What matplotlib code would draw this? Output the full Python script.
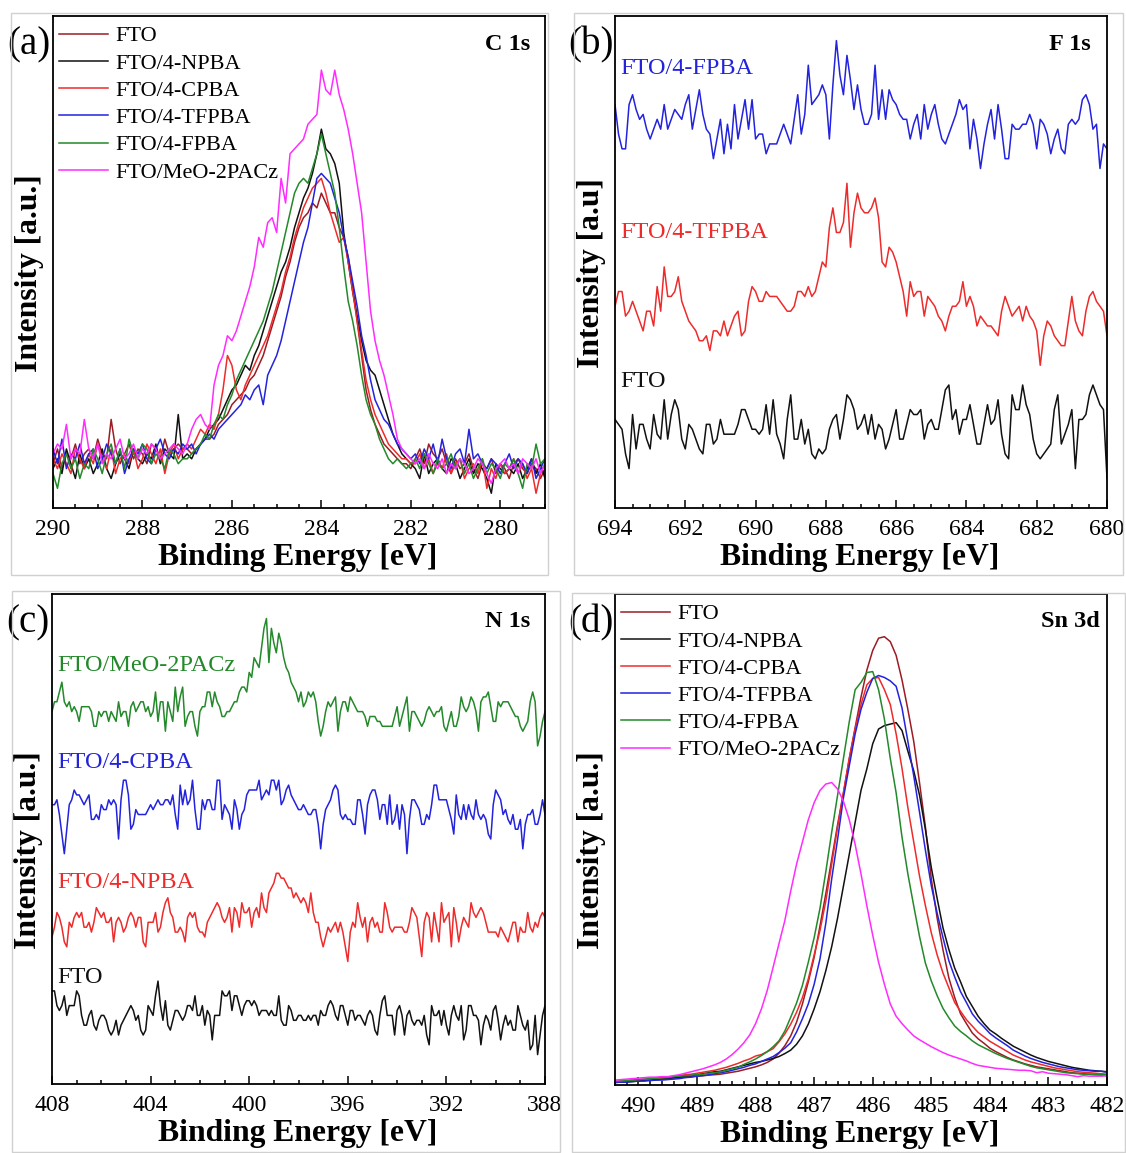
import numpy as np
import matplotlib.pyplot as plt
from matplotlib.patches import Rectangle
from matplotlib.ticker import MultipleLocator

plt.rcParams["font.family"] = ["Liberation Serif", "DejaVu Serif"]

W, H = 1126, 1153

# ---------------- (a) C 1s, 290 -> 279 eV, 0.1 eV steps ----------------
c1s_energy = np.round(np.linspace(290.0, 279.0, 111), 1)
c1s_fto = [9, 12, 8, 11, 10, 13, 9, 11, 12, 10, 14, 11, 10, 18, 12, 9, 11, 13, 10, 12,
           11, 9, 13, 12, 10, 14, 11, 12, 13, 12,
           12, 11, 12, 13, 14, 14, 15, 17, 18, 19, 21, 22, 23, 24, 26, 27, 29, 31, 34, 37,
           40, 43, 47, 50, 54, 57, 59, 60, 62, 61, 64, 62, 60, 60, 57, 55, 51, 45, 38, 31,
           24, 20, 17, 15, 13, 12, 11, 10, 9, 9, 8,
           10, 12, 9, 13, 11, 10, 12, 9, 7, 10, 8, 9, 11, 8, 6, 9, 8, 10, 7, 9,
           8, 6, 9, 10, 8, 7, 9, 8, 6, 8]
c1s_npba = [8, 10, 7, 12, 9, 6, 11, 8, 10, 7, 9, 12, 8, 6, 9, 11, 10, 8, 12, 10,
            9, 11, 10, 13, 9, 12, 11, 10, 19, 10,
            11, 10, 12, 13, 14, 16, 17, 18, 20, 22, 24, 25, 27, 29, 28, 31, 33, 36, 39, 42,
            45, 48, 50, 53, 57, 60, 63, 65, 68, 72, 77, 73, 72, 70, 66, 56, 50, 44, 39, 34,
            30, 28, 27, 24, 21, 18, 15, 13, 11, 10, 9,
            8, 6, 11, 7, 9, 10, 8, 7, 10, 9, 6, 8, 10, 7, 9, 8, 6, 3, 9, 8,
            7, 8, 7, 9, 6, 8, 10, 7, 9, 6]
c1s_cpba = [10, 8, 11, 9, 7, 12, 10, 8, 11, 9, 13, 10, 8, 12, 7, 10, 11, 9, 12, 8,
            10, 13, 11, 9, 12, 7, 11, 13, 10, 12,
            13, 12, 14, 16, 15, 17, 16, 19, 24, 31, 29, 24, 22, 25, 27, 29, 31, 33, 35, 38,
            41, 44, 48, 51, 55, 58, 61, 63, 65, 66, 67, 64, 60, 57, 54, 55, 50, 44, 38, 32,
            26, 22, 19, 17, 15, 13, 12, 11, 10, 10, 9,
            9, 11, 8, 10, 7, 9, 8, 11, 7, 9, 10, 6, 8, 9, 7, 10, 4, 8, 6, 9,
            7, 8, 10, 7, 9, 6, 8, 3, 7, 9]
c1s_tfpba = [12, 9, 14, 8, 11, 10, 13, 9, 11, 12, 8, 10, 13, 11, 9, 12, 7, 10, 12, 11,
             13, 10, 9, 12, 14, 11, 10, 12, 11, 13,
             12, 13, 11, 13, 14, 15, 14, 16, 17, 18, 19, 20, 21, 23, 22, 24, 25, 21, 27, 29,
             31, 34, 38, 42, 46, 50, 54, 57, 62, 67, 68, 67, 66, 63, 60, 55, 51, 46, 41, 35,
             31, 26, 22, 20, 18, 17, 15, 13, 12, 11, 10,
             11, 9, 12, 10, 13, 9, 14, 10, 8, 11, 12, 9, 16, 10, 11, 9, 8, 10, 9, 7,
             9, 11, 8, 10, 9, 7, 10, 6, 8, 10]
c1s_fpba = [7, 4, 9, 11, 8, 10, 6, 9, 8, 12, 10, 7, 11, 13, 9, 12, 8, 14, 11, 10,
            13, 12, 9, 11, 10, 8, 12, 11, 9, 10,
            10, 11, 12, 13, 15, 14, 17, 19, 18, 21, 23, 26, 28, 30, 32, 34, 36, 38, 41, 44,
            48, 52, 56, 60, 64, 66, 67, 66, 69, 72, 76, 72, 68, 64, 57, 49, 42, 38, 33, 27,
            22, 19, 17, 14, 12, 10, 9, 10, 9, 8, 9,
            10, 8, 11, 9, 7, 10, 8, 9, 11, 8, 10, 7, 9, 6, 8, 10, 7, 9, 8, 6,
            9, 8, 10, 7, 4, 9, 8, 13, 9, 10]
c1s_meo = [11, 13, 12, 17, 10, 12, 11, 18, 12, 10, 13, 9, 11, 10, 12, 14, 10, 11, 13, 10,
           12, 11, 13, 12, 10, 11, 12, 13, 12, 11,
           13, 16, 18, 19, 17, 16, 25, 29, 31, 35, 34, 36, 39, 42, 45, 49, 55, 53, 58, 59,
           56, 67, 62, 72, 73, 74, 75, 78, 79, 80, 89, 85, 84, 89, 84, 81, 77, 72, 66, 60,
           50, 40, 34, 30, 27, 23, 19, 14, 12, 11, 10,
           9, 10, 8, 11, 9, 8, 10, 7, 9, 8, 10, 9, 7, 8, 10, 9, 7, 5, 8, 9,
           10, 8, 9, 7, 10, 9, 8, 10, 7, 9]

# ---------------- (b) F 1s, 694 -> 680 eV ----------------
f1s_energy = np.round(np.linspace(694.0, 680.0, 141), 1)
f1s_fpba = [82, 76, 73, 73, 82, 84, 81, 79, 80, 77, 75, 77, 79, 77, 82, 77, 79, 81, 80, 79,
            82, 84, 77, 81, 85, 80, 77, 76, 71, 75, 79, 72, 78, 73, 82, 75, 79, 83, 77, 83,
            75, 76, 76, 72, 74, 74, 74, 76, 78, 76, 74, 79, 84, 76, 80, 90, 82, 83, 84, 86,
            84, 75, 86, 95, 88, 84, 92, 87, 81, 86, 81, 78, 78, 80, 90, 79, 85, 79, 85, 83,
            82, 80, 79, 79, 75, 78, 80, 75, 82, 77, 80, 82, 78, 75, 74, 76, 78, 80, 83, 81,
            82, 73, 79, 75, 69, 74, 78, 81, 75, 82, 77, 71, 71, 78, 77, 77, 78, 78, 80, 78,
            73, 79, 78, 76, 72, 75, 77, 73, 72, 78, 79, 78, 79, 83, 84, 82, 77, 78, 69, 74,
            73]
f1s_tfpba = [41, 44, 44, 39, 40, 42, 40, 38, 36, 40, 40, 37, 45, 40, 49, 43, 43, 44, 47, 42,
             40, 38, 37, 36, 34, 34, 35, 32, 36, 36, 35, 38, 35, 37, 39, 40, 35, 36, 42, 45,
             44, 42, 42, 44, 43, 43, 43, 42, 41, 40, 40, 41, 44, 44, 43, 45, 43, 44, 47, 50,
             49, 57, 61, 56, 56, 58, 66, 53, 60, 64, 61, 60, 60, 61, 63, 59, 50, 49, 53, 52,
             50, 47, 44, 39, 46, 43, 44, 44, 39, 43, 42, 41, 39, 38, 36, 39, 41, 41, 42, 46,
             41, 43, 41, 37, 39, 38, 37, 37, 36, 35, 40, 43, 41, 39, 40, 41, 38, 41, 39, 38,
             36, 29, 35, 38, 37, 35, 34, 33, 33, 38, 43, 38, 36, 35, 40, 43, 44, 42, 41, 40,
             35]
f1s_fto = [18, 17, 16, 11, 8, 19, 12, 17, 17, 14, 12, 19, 15, 14, 22, 14, 19, 22, 20, 14,
           12, 17, 16, 14, 12, 11, 17, 17, 13, 14, 18, 15, 15, 15, 15, 17, 20, 20, 18, 16,
           16, 15, 16, 21, 15, 22, 15, 13, 10, 18, 23, 14, 14, 18, 13, 16, 11, 10, 12, 11,
           12, 16, 18, 19, 14, 18, 23, 22, 20, 16, 17, 19, 15, 19, 14, 17, 16, 12, 14, 17,
           20, 14, 14, 17, 20, 19, 19, 20, 14, 17, 18, 16, 16, 20, 24, 25, 18, 20, 15, 18,
           18, 21, 17, 13, 13, 17, 21, 17, 18, 22, 15, 11, 10, 23, 20, 20, 25, 21, 19, 14,
           11, 10, 11, 12, 13, 20, 23, 13, 15, 17, 20, 8, 18, 18, 19, 23, 25, 23, 21, 20,
           6]

# ---------------- (c) N 1s, 408 -> 388 eV ----------------
n1s_energy = np.round(np.linspace(408.0, 388.0, 201), 1)
n1s_meo = [76, 78, 78, 80, 82, 78, 77, 78, 76, 77, 76, 74, 77, 77, 77, 77, 76, 73, 73, 76,
           75, 76, 76, 74, 76, 75, 74, 78, 75, 76, 76, 73, 77, 78, 76, 77, 78, 78, 76, 77,
           75, 76, 80, 74, 78, 78, 72, 78, 76, 74, 81, 76, 79, 81, 73, 75, 76, 76, 73, 71,
           76, 77, 77, 80, 80, 77, 80, 78, 77, 75, 75, 76, 76, 77, 78, 78, 80, 81, 81, 80,
           84, 83, 87, 86, 85, 89, 93, 95, 86, 93, 90, 88, 92, 90, 87, 85, 84, 82, 81, 80,
           78, 80, 77, 78, 80, 79, 80, 78, 74, 71, 73, 76, 78, 77, 78, 79, 72, 76, 78, 78,
           76, 79, 78, 77, 76, 76, 76, 75, 73, 75, 75, 75, 74, 74, 73, 73, 73, 73, 73, 75,
           77, 73, 75, 77, 79, 72, 76, 76, 75, 74, 73, 74, 76, 77, 76, 75, 76, 76, 77, 73,
           72, 74, 76, 73, 73, 75, 79, 77, 76, 77, 79, 78, 76, 72, 78, 79, 79, 80, 77, 74,
           74, 78, 77, 78, 78, 78, 77, 76, 75, 75, 73, 72, 73, 74, 78, 80, 78, 69, 71, 74,
           76]
n1s_cpba = [57, 57, 58, 55, 51, 47, 52, 57, 58, 60, 59, 59, 58, 57, 58, 59, 54, 54, 55, 54,
            57, 56, 56, 58, 57, 58, 57, 50, 58, 62, 62, 59, 52, 53, 56, 55, 55, 55, 55, 56,
            57, 56, 57, 58, 57, 57, 58, 58, 57, 59, 55, 52, 61, 57, 60, 57, 58, 62, 56, 52,
            52, 58, 56, 58, 58, 56, 56, 62, 62, 54, 57, 56, 55, 52, 58, 56, 52, 55, 56, 59,
            60, 60, 60, 60, 62, 58, 59, 60, 59, 62, 62, 60, 62, 57, 58, 60, 61, 59, 58, 57,
            56, 56, 57, 56, 55, 55, 56, 56, 53, 48, 53, 56, 57, 58, 60, 61, 60, 55, 54, 55,
            54, 54, 53, 53, 58, 58, 55, 51, 57, 59, 60, 60, 58, 54, 57, 57, 53, 59, 53, 54,
            57, 52, 57, 55, 47, 54, 58, 58, 57, 56, 53, 53, 55, 54, 57, 61, 61, 58, 58, 58,
            58, 56, 54, 51, 59, 55, 54, 57, 54, 57, 55, 54, 58, 55, 54, 55, 54, 51, 50, 57,
            60, 59, 58, 55, 56, 54, 53, 55, 52, 52, 54, 48, 53, 55, 55, 56, 53, 53, 55, 58,
            55]
n1s_npba = [30, 32, 35, 34, 32, 29, 28, 33, 32, 34, 35, 34, 35, 32, 32, 33, 31, 33, 36, 35,
            34, 35, 33, 33, 34, 29, 33, 34, 33, 31, 32, 34, 35, 34, 32, 34, 34, 29, 28, 33,
            33, 33, 35, 31, 32, 35, 37, 38, 35, 34, 31, 31, 32, 31, 29, 34, 35, 34, 35, 32,
            31, 31, 30, 33, 34, 35, 36, 37, 36, 34, 33, 34, 36, 31, 36, 35, 32, 37, 35, 35,
            36, 32, 35, 36, 34, 39, 36, 35, 39, 40, 41, 43, 43, 42, 42, 41, 40, 40, 38, 39,
            38, 37, 38, 37, 35, 39, 35, 33, 33, 30, 28, 30, 32, 31, 32, 33, 31, 33, 31, 28,
            25, 31, 33, 32, 37, 34, 32, 34, 29, 33, 34, 32, 33, 31, 31, 37, 35, 32, 31, 32,
            32, 32, 32, 31, 31, 33, 36, 35, 34, 30, 26, 33, 35, 34, 29, 35, 32, 29, 37, 33,
            34, 35, 28, 36, 33, 29, 32, 34, 33, 32, 37, 35, 34, 35, 36, 35, 33, 31, 31, 31,
            31, 30, 32, 31, 30, 29, 31, 33, 33, 29, 32, 31, 31, 35, 32, 31, 33, 32, 34, 35,
            34]
n1s_fto = [19, 19, 16, 15, 16, 18, 14, 16, 16, 16, 19, 18, 14, 12, 12, 14, 15, 12, 11, 13,
           14, 14, 13, 11, 10, 11, 13, 10, 12, 13, 14, 15, 16, 15, 13, 14, 11, 10, 11, 16,
           15, 14, 18, 21, 16, 13, 17, 12, 11, 13, 15, 15, 14, 13, 14, 16, 16, 15, 18, 14,
           14, 16, 12, 15, 14, 9, 14, 14, 14, 19, 18, 18, 19, 15, 18, 18, 16, 14, 16, 17,
           17, 16, 17, 16, 14, 15, 15, 15, 14, 15, 14, 14, 18, 13, 12, 12, 16, 15, 13, 13,
           14, 14, 13, 13, 14, 13, 14, 14, 12, 15, 14, 14, 16, 17, 16, 14, 13, 16, 16, 14,
           12, 15, 15, 13, 14, 14, 13, 12, 14, 15, 14, 11, 10, 14, 17, 18, 14, 14, 14, 10,
           15, 16, 14, 10, 14, 15, 13, 12, 13, 13, 12, 14, 10, 8, 16, 14, 14, 15, 12, 15,
           12, 10, 14, 16, 14, 13, 16, 9, 11, 16, 16, 14, 14, 13, 8, 12, 14, 13, 11, 15,
           16, 13, 9, 12, 14, 12, 13, 11, 11, 16, 14, 12, 11, 13, 7, 8, 14, 6, 10, 14,
           16]

# ---------------- (d) Sn 3d, 490.4 -> 482 eV ----------------
sn3d_energy = np.round(np.linspace(490.4, 482.0, 85), 1)
sn3d_fto = [0.7, 0.7, 0.8, 0.8, 0.9, 1.0, 1.0, 1.1, 1.2, 1.3, 1.4, 1.5, 1.6, 1.7, 1.8,
            1.9, 2.0, 2.1, 2.2, 2.4, 2.6, 2.8, 3.1, 3.4, 3.7, 4.1, 4.6, 5.3, 6.5, 8.0,
            10.0, 12.8, 16.5, 21.0, 26.0, 32.4, 39.0, 46.0, 53.0, 59.5, 66.5, 72.8, 79.0,
            84.5, 88.5, 91.0, 91.3, 90.3, 87.5, 82.5, 76.5, 70.0, 61.5, 52.5, 42.0, 34.0,
            27.5, 21.8, 17.8, 14.5, 12.5, 10.6, 9.4, 8.5, 7.5, 6.8, 6.2, 5.6, 5.1, 4.7,
            4.3, 4.0, 3.7, 3.5, 3.3, 3.1, 2.9, 2.7, 2.5, 2.4, 2.3, 2.2, 2.1, 2.0, 1.9]
sn3d_npba = [0.5, 0.6, 0.6, 0.7, 0.8, 0.9, 1.0, 1.1, 1.2, 1.3, 1.5, 1.6, 1.8, 1.9, 2.1,
             2.3, 2.5, 2.7, 2.8, 3.1, 3.4, 3.7, 4.0, 4.3, 4.6, 4.8, 5.1, 5.4, 5.8, 6.4,
             7.1, 8.3, 10.0, 12.4, 15.5, 19.0, 23.3, 28.2, 34.0, 40.5, 47.0, 53.5, 60.0,
             64.4, 69.5, 72.5, 73.2, 73.5, 73.8, 72.2, 68.0, 64.0, 59.0, 52.0, 44.3, 38.0,
             32.0, 27.6, 23.8, 21.0, 18.0, 16.0, 14.0, 12.5, 11.2, 10.4, 9.5, 8.7, 7.9, 7.3,
             6.7, 6.1, 5.6, 5.2, 4.8, 4.5, 4.2, 3.9, 3.6, 3.4, 3.2, 3.0, 2.9, 2.8, 2.7]
sn3d_cpba = [0.7, 0.8, 0.9, 1.0, 1.1, 1.2, 1.3, 1.4, 1.5, 1.6, 1.8, 1.9, 2.1, 2.2, 2.4,
             2.6, 2.8, 3.0, 3.3, 3.6, 4.0, 4.4, 4.9, 5.3, 5.9, 6.2, 6.8, 7.4, 8.8, 10.4,
             12.4, 14.8, 17.8, 21.6, 26.5, 31.5, 37.5, 45.0, 52.5, 59.5, 66.5, 72.5, 77.5,
             81.5, 82.8, 83.0, 80.5, 77.5, 71.5, 64.5, 56.5, 49.5, 42.5, 36.5, 31.0, 26.5,
             22.8, 19.8, 16.8, 15.0, 13.3, 12.0, 10.7, 9.8, 8.9, 8.2, 7.5, 6.8, 6.1, 5.6,
             5.1, 4.7, 4.4, 4.1, 3.8, 3.5, 3.3, 3.1, 2.9, 2.7, 2.6, 2.5, 2.4, 2.3, 2.2]
sn3d_tfpba = [0.5, 0.6, 0.6, 0.7, 0.8, 0.8, 0.9, 1.0, 1.0, 1.1, 1.2, 1.3, 1.5, 1.6, 1.8,
              1.9, 2.1, 2.3, 2.5, 2.7, 3.0, 3.3, 3.6, 4.0, 4.3, 4.8, 5.3, 5.8, 6.6, 7.5,
              8.6, 10.8, 13.5, 16.5, 20.5, 25.7, 33.0, 42.0, 50.0, 58.5, 65.0, 71.5, 76.5,
              80.0, 82.8, 83.4, 83.0, 82.3, 81.2, 76.8, 70.0, 63.0, 55.5, 47.8, 40.6, 35.0,
              30.0, 25.3, 22.0, 19.0, 16.8, 14.5, 13.0, 11.8, 10.5, 9.6, 8.8, 8.0, 7.1, 6.5,
              5.9, 5.4, 5.0, 4.6, 4.3, 4.0, 3.7, 3.5, 3.3, 3.1, 3.0, 2.9, 2.8, 2.8, 2.6]
sn3d_fpba = [0.7, 0.8, 0.9, 1.0, 1.1, 1.2, 1.3, 1.4, 1.5, 1.5, 1.7, 1.8, 1.9, 2.0, 2.1,
             2.2, 2.4, 2.5, 2.7, 3.0, 3.3, 3.6, 4.2, 4.7, 5.3, 6.0, 6.8, 7.8, 9.0, 11.0,
             13.8, 16.7, 20.3, 25.0, 30.0, 36.0, 43.5, 51.5, 59.0, 66.5, 74.0, 80.5, 82.0,
             84.0, 84.2, 80.5, 74.5, 66.5, 59.5, 50.5, 43.0, 36.5, 30.2, 24.8, 21.2, 18.2,
             15.6, 13.7, 12.0, 10.9, 10.0, 9.0, 8.2, 7.6, 7.0, 6.4, 5.9, 5.4, 5.0, 4.6,
             4.2, 3.8, 3.5, 3.3, 3.1, 2.9, 2.7, 2.5, 2.4, 2.3, 2.2, 2.2, 2.1, 2.1, 2.1]
sn3d_meo = [1.0, 1.1, 1.2, 1.3, 1.4, 1.5, 1.6, 1.6, 1.7, 1.7, 1.9, 2.1, 2.4, 2.7, 3.0,
            3.3, 3.7, 4.1, 4.6, 5.3, 6.2, 7.3, 8.6, 10.2, 12.5, 15.5, 19.3, 24.0, 28.8, 33.5,
            39.5, 45.0, 49.5, 54.0, 57.5, 60.0, 61.3, 61.6, 60.3, 57.8, 54.0, 49.0, 43.0,
            36.5, 30.5, 25.0, 20.5, 16.5, 14.0, 12.5, 11.2, 10.0, 9.2, 8.5, 7.8, 7.2,
            6.6, 6.1, 5.7, 5.3, 4.9, 4.4, 4.0, 3.8, 3.6, 3.4, 3.3, 3.2, 3.1, 3.0,
            3.0, 2.9, 2.5, 2.7, 2.4, 2.3, 2.2, 2.1, 1.9, 1.7, 1.9, 1.8, 1.8, 1.8, 1.9]

samples = ["FTO", "FTO/4-NPBA", "FTO/4-CPBA", "FTO/4-TFPBA", "FTO/4-FPBA", "FTO/MeO-2PACz"]
sample_colors = ["#9b1c24", "#111111", "#ee2b2b", "#2323dd", "#23892a", "#ff2cff"]

c1s_series = [c1s_fto, c1s_npba, c1s_cpba, c1s_tfpba, c1s_fpba, c1s_meo]
sn3d_series = [sn3d_fto, sn3d_npba, sn3d_cpba, sn3d_tfpba, sn3d_fpba, sn3d_meo]

f1s_labels = ["FTO/4-FPBA", "FTO/4-TFPBA", "FTO"]
f1s_colors = ["#2323dd", "#ee2b2b", "#111111"]
f1s_series = [f1s_fpba, f1s_tfpba, f1s_fto]
f1s_label_y = [89.3, 56.0, 25.8]

n1s_labels = ["FTO/MeO-2PACz", "FTO/4-CPBA", "FTO/4-NPBA", "FTO"]
n1s_colors = ["#23892a", "#2323dd", "#ee2b2b", "#111111"]
n1s_series = [n1s_meo, n1s_cpba, n1s_npba, n1s_fto]
n1s_label_y = [85.5, 65.7, 41.2, 21.8]


def px_axes(left, top, right, bottom):
    return [left / W, 1 - bottom / H, (right - left) / W, (bottom - top) / H]


def style_axis(ax, xlim, major, minor, ylabel, tag, element):
    ax.set_xlim(*xlim)
    ax.set_ylim(0, 100)
    ax.xaxis.set_major_locator(MultipleLocator(major))
    ax.xaxis.set_minor_locator(MultipleLocator(minor))
    ax.set_yticks([])
    ax.tick_params(axis="x", which="both", direction="in", top=False,
                   labelsize=17, pad=8, width=1.1)
    ax.tick_params(axis="x", which="major", length=6)
    ax.tick_params(axis="x", which="minor", length=3)
    for spine in ax.spines.values():
        spine.set_linewidth(1.3)
    ax.text(0.498, -0.101, "Binding Energy [eV]", transform=ax.transAxes,
            ha="center", va="center", fontsize=22.8, fontweight="bold")
    ax.text(-0.047, 0.478, ylabel, transform=ax.transAxes, rotation=90,
            ha="center", va="center", fontsize=22.8, fontweight="bold")
    ax.text(-0.049, 0.941, tag, transform=ax.transAxes,
            ha="center", va="center", fontsize=28)
    ax.text(0.925, 0.943, element, transform=ax.transAxes,
            ha="center", va="center", fontsize=17.5, fontweight="bold")


def add_legend(ax):
    ax.legend(loc="upper left", bbox_to_anchor=(0.012, 0.98), frameon=False,
              fontsize=16, handlelength=2.2, handletextpad=0.35,
              labelspacing=0.3, borderaxespad=0, borderpad=0)


fig = plt.figure(figsize=(W / 100, H / 100), dpi=100)

# light panel frames
for left, top, right, bottom in [(11, 13, 548, 575), (574, 13, 1123, 575),
                                 (12, 591, 560, 1152), (572, 593, 1125, 1152)]:
    fig.patches.append(Rectangle((left / W, 1 - bottom / H), (right - left) / W,
                                 (bottom - top) / H, transform=fig.transFigure,
                                 fill=False, edgecolor="#d0d0d0", linewidth=1.0))

ax_a = fig.add_axes(px_axes(53, 16, 545, 508))
ax_b = fig.add_axes(px_axes(615, 16, 1107, 508))
ax_c = fig.add_axes(px_axes(52, 594, 545, 1084))
ax_d = fig.add_axes(px_axes(615, 594, 1107, 1085))

for name, color, values in zip(samples, sample_colors, c1s_series):
    ax_a.plot(c1s_energy, values, color=color, linewidth=1.1, label=name)
style_axis(ax_a, (290, 279), 2, 0.5, "Intensity [a.u.]", "(a)", "C 1s")
add_legend(ax_a)

for name, color, values, ly in zip(f1s_labels, f1s_colors, f1s_series, f1s_label_y):
    ax_b.plot(f1s_energy, values, color=color, linewidth=1.1)
    ax_b.text(693.85, ly, name, color=color, fontsize=17.5, ha="left", va="center")
style_axis(ax_b, (694, 680), 2, 0.5, "Intensity [a.u]", "(b)", "F 1s")

for name, color, values, ly in zip(n1s_labels, n1s_colors, n1s_series, n1s_label_y):
    ax_c.plot(n1s_energy, values, color=color, linewidth=1.1)
    ax_c.text(407.8, ly, name, color=color, fontsize=17.5, ha="left", va="center")
style_axis(ax_c, (408, 388), 4, 1, "Intensity [a.u.]", "(c)", "N 1s")

for name, color, values in zip(samples, sample_colors, sn3d_series):
    ax_d.plot(sn3d_energy, values, color=color, linewidth=1.1, label=name)
style_axis(ax_d, (490.4, 482), 1, 0.2, "Intensity [a.u.]", "(d)", "Sn 3d")
add_legend(ax_d)

fig.savefig("out.png", dpi=100)
